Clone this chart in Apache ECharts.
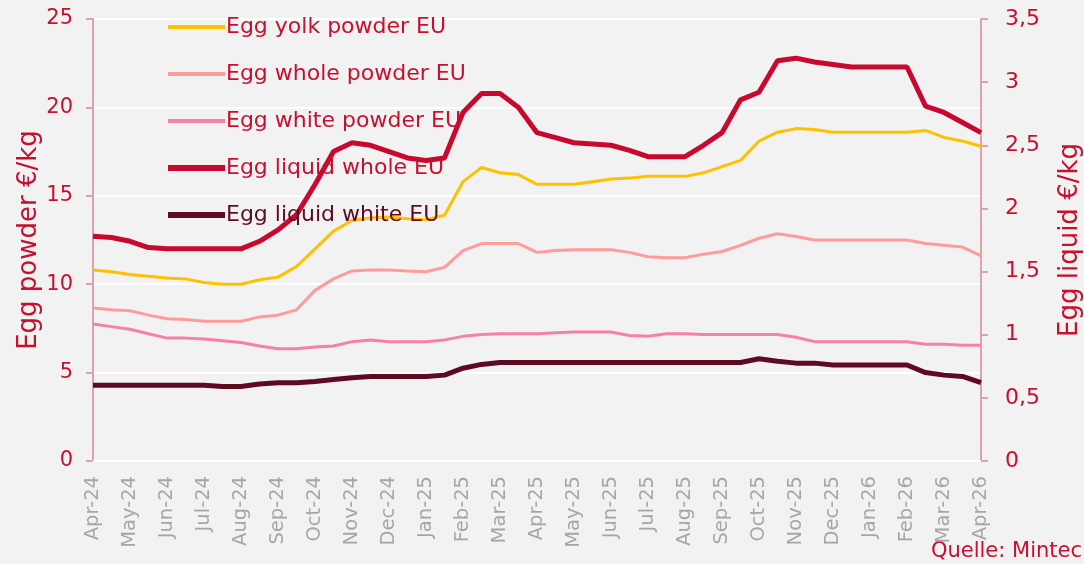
<!DOCTYPE html>
<html>
<head>
<meta charset="utf-8">
<script src="https://cdn.jsdelivr.net/npm/echarts@6/dist/echarts.min.js"></script>
<style>
html,body{margin:0;padding:0;background:#f2f2f2;}
#chart{width:1084px;height:564px;}
</style>
</head>
<body>
<div id="chart"></div>
<script>
// Month tick labels (x axis)
var months = ['Apr-24','May-24','Jun-24','Jul-24','Aug-24','Sep-24','Oct-24','Nov-24','Dec-24','Jan-25','Feb-25','Mar-25','Apr-25','May-25','Jun-25','Jul-25','Aug-25','Sep-25','Oct-25','Nov-25','Dec-25','Jan-26','Feb-26','Mar-26','Apr-26'];
// Series values, sampled twice per month (start and middle of each month), Apr-24 .. Apr-26
var yolkPowder = [10.8,10.7,10.55,10.45,10.35,10.3,10.1,10.0,10.0,10.25,10.4,11.0,12.0,13.0,13.6,13.75,13.8,13.7,13.65,13.9,15.8,16.6,16.3,16.2,15.65,15.65,15.65,15.8,15.95,16.0,16.1,16.1,16.1,16.3,16.65,17.0,18.1,18.6,18.8,18.75,18.6,18.6,18.6,18.6,18.6,18.7,18.3,18.1,17.8];
var wholePowder = [8.65,8.55,8.5,8.25,8.05,8.0,7.9,7.9,7.9,8.15,8.25,8.55,9.65,10.3,10.75,10.8,10.8,10.75,10.7,10.95,11.9,12.3,12.3,12.3,11.8,11.9,11.95,11.95,11.95,11.8,11.55,11.5,11.5,11.7,11.85,12.2,12.6,12.85,12.7,12.5,12.5,12.5,12.5,12.5,12.5,12.3,12.2,12.1,11.6];
var whitePowder = [7.75,7.6,7.45,7.2,6.95,6.95,6.9,6.8,6.7,6.5,6.35,6.35,6.45,6.5,6.75,6.85,6.75,6.75,6.75,6.85,7.05,7.15,7.2,7.2,7.2,7.25,7.3,7.3,7.3,7.1,7.05,7.2,7.2,7.15,7.15,7.15,7.15,7.15,7.0,6.75,6.75,6.75,6.75,6.75,6.75,6.6,6.6,6.55,6.55];
var liquidWhole = [1.78,1.77,1.74,1.69,1.68,1.68,1.68,1.68,1.68,1.74,1.83,1.95,2.19,2.45,2.52,2.50,2.45,2.40,2.38,2.40,2.76,2.91,2.91,2.80,2.60,2.56,2.52,2.51,2.50,2.46,2.41,2.41,2.41,2.50,2.60,2.86,2.92,3.17,3.19,3.16,3.14,3.12,3.12,3.12,3.12,2.81,2.76,2.68,2.60];
var liquidWhite = [0.60,0.60,0.60,0.60,0.60,0.60,0.60,0.59,0.59,0.61,0.62,0.62,0.63,0.645,0.66,0.67,0.67,0.67,0.67,0.68,0.735,0.765,0.78,0.78,0.78,0.78,0.78,0.78,0.78,0.78,0.78,0.78,0.78,0.78,0.78,0.78,0.81,0.79,0.775,0.775,0.76,0.76,0.76,0.76,0.76,0.70,0.68,0.67,0.62];
var leftTicks = [0,5,10,15,20,25];
var rightTicks = ['0','0,5','1','1,5','2','2,5','3','3,5'];

var RED = '#c8102e';
var FONT = 'DejaVu Sans';
function pts(arr){ return arr.map(function(v,i){ return [i/2, v]; }); }

var chart = echarts.init(document.getElementById('chart'));
chart.setOption({
  backgroundColor: '#f2f2f2',
  animation: false,
  textStyle: {fontFamily: FONT},
  grid: {left: 93, right: 103, top: 19, bottom: 103, containLabel: false, outerBoundsMode: 'none'},
  legend: {
    orient: 'vertical', left: 160, top: 11, itemWidth: 57, itemHeight: 14, itemGap: 25,
    itemStyle: {opacity: 0},
    textStyle: {fontFamily: FONT, fontSize: 22, color: RED, padding: [0,0,0,-4]},
    data: [
      {name: 'Egg yolk powder EU', lineStyle: {width: 4}},
      {name: 'Egg whole powder EU', lineStyle: {width: 4}},
      {name: 'Egg white powder EU', lineStyle: {width: 4}},
      {name: 'Egg liquid whole EU', lineStyle: {width: 6}},
      {name: 'Egg liquid white EU', lineStyle: {width: 6}, textStyle: {color: '#5e0b22'}}
    ]
  },
  xAxis: {
    type: 'value', min: 0, max: 24, interval: 1,
    axisLine: {show: true, lineStyle: {color: '#ffffff', width: 2}},
    axisTick: {show: false},
    splitLine: {show: false},
    axisLabel: {rotate: 90, margin: 15, color: '#a6a6a6', fontSize: 19.5, fontFamily: FONT,
      formatter: function(v){ return months[Math.round(v)] || ''; }}
  },
  yAxis: [
    {
      type: 'value', min: 0, max: 25, interval: 5,
      name: 'Egg powder €/kg', nameLocation: 'middle', nameGap: 51, nameRotate: 90, nameMoveOverlap: false,
      nameTextStyle: {color: RED, fontSize: 26, fontFamily: FONT},
      axisLine: {show: true, lineStyle: {color: '#dba3aa', width: 2}},
      axisTick: {show: true, length: 7, lineStyle: {color: '#dba3aa', width: 2}},
      splitLine: {show: true, lineStyle: {color: '#ffffff', width: 2}},
      axisLabel: {color: RED, fontSize: 21, margin: 20, fontFamily: FONT,
        formatter: function(v){ return String(leftTicks[Math.round(v/5)]); }}
    },
    {
      type: 'value', min: 0, max: 3.5, interval: 0.5, position: 'right',
      name: 'Egg liquid €/kg', nameLocation: 'middle', nameGap: 76, nameRotate: 90,
      nameTextStyle: {color: RED, fontSize: 26, fontFamily: FONT},
      axisLine: {show: true, lineStyle: {color: '#dba3aa', width: 2}},
      axisTick: {show: true, length: 7, lineStyle: {color: '#dba3aa', width: 2}},
      splitLine: {show: false},
      axisLabel: {color: RED, fontSize: 22, margin: 24, fontFamily: FONT,
        formatter: function(v){ return rightTicks[Math.round(v*2)]; }}
    }
  ],
  series: [
    {name: 'Egg yolk powder EU', type: 'line', yAxisIndex: 0, showSymbol: false, symbol: 'none',
      data: pts(yolkPowder), itemStyle: {color: '#ffc000'}, lineStyle: {color: '#ffc000', width: 3}},
    {name: 'Egg whole powder EU', type: 'line', yAxisIndex: 0, showSymbol: false, symbol: 'none',
      data: pts(wholePowder), itemStyle: {color: '#ff9b9b'}, lineStyle: {color: '#ff9b9b', width: 3}},
    {name: 'Egg white powder EU', type: 'line', yAxisIndex: 0, showSymbol: false, symbol: 'none',
      data: pts(whitePowder), itemStyle: {color: '#f77fac'}, lineStyle: {color: '#f77fac', width: 3}},
    {name: 'Egg liquid whole EU', type: 'line', yAxisIndex: 1, showSymbol: false, symbol: 'none',
      data: pts(liquidWhole), itemStyle: {color: '#c8082f'}, lineStyle: {color: '#c8082f', width: 5}},
    {name: 'Egg liquid white EU', type: 'line', yAxisIndex: 1, showSymbol: false, symbol: 'none',
      data: pts(liquidWhite), itemStyle: {color: '#5e0b22'}, lineStyle: {color: '#5e0b22', width: 5}}
  ],
  graphic: [
    {type: 'text', right: 2, bottom: 2,
      style: {text: 'Quelle: Mintec', fill: RED, font: '21px "DejaVu Sans"'}}
  ]
});
</script>
</body>
</html>
